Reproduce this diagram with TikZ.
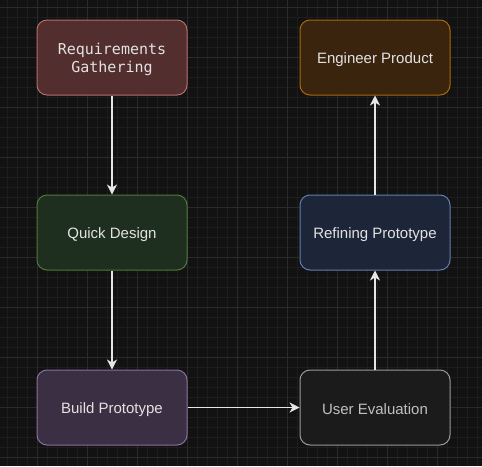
\documentclass[tikz,border=0pt]{standalone}
\usepackage{fontspec}
\setmainfont{Liberation Sans}
\newfontfamily\monofnt{DejaVu Sans Mono}
\usetikzlibrary{arrows.meta}
\definecolor{bgc}{HTML}{121212}
\definecolor{gminor}{HTML}{1D1D1D}
\definecolor{gmajor}{HTML}{2A2A2A}
\definecolor{txtc}{HTML}{E2E2E2}
\definecolor{arrc}{HTML}{E6E6E6}
\definecolor{reqfill}{HTML}{532E2E}\definecolor{reqdraw}{HTML}{B86A6A}
\definecolor{engfill}{HTML}{3A240E}\definecolor{engdraw}{HTML}{A8690D}
\definecolor{qdfill}{HTML}{1F2F1F}\definecolor{qddraw}{HTML}{4F7A35}
\definecolor{rpfill}{HTML}{1D2639}\definecolor{rpdraw}{HTML}{5F7FAE}
\definecolor{bpfill}{HTML}{3B2F44}\definecolor{bpdraw}{HTML}{8B6F9C}
\definecolor{uefill}{HTML}{1B1B1B}\definecolor{uedraw}{HTML}{9A9A9A}
\tikzset{
  box/.style={rounded corners=10pt, minimum width=150pt, minimum height=75pt,
    inner sep=0pt, line width=1pt, text=txtc, font=\fontsize{15}{18}\selectfont,
    align=center},
  lbl/.style={text=txtc, font=\fontsize{15}{18}\selectfont, align=center, inner sep=0pt},
  conn/.style={draw=arrc, line width=1.2pt, -{Stealth[length=10pt,width=10pt,inset=3pt]}}
}
\begin{document}
\begin{tikzpicture}[x=1pt,y=-1pt]
\fill[bgc] (0,0) rectangle (482,466);
\useasboundingbox (0,0) rectangle (482,466);
\foreach \x in {7,17,...,477} \draw[gminor,line width=0.6pt] (\x,0) -- (\x,466);
\foreach \y in {7,17,...,467} \draw[gminor,line width=0.6pt] (0,\y) -- (482,\y);
\foreach \x in {37,87,...,437} \draw[gmajor,line width=0.8pt] (\x,0) -- (\x,466);
\foreach \y in {7,57,...,457} \draw[gmajor,line width=0.8pt] (0,\y) -- (482,\y);

\node[box, fill=reqfill, draw=reqdraw] (req) at (112,57.5) {};
\node[box, fill=engfill, draw=engdraw] (eng) at (375,57.5) {};
\node[box, fill=qdfill, draw=qddraw] (qd) at (112,232.5) {};
\node[box, fill=rpfill, draw=rpdraw] (rp) at (375,232.5) {};
\node[box, fill=bpfill, draw=bpdraw] (bp) at (112,407.5) {};
\node[box, fill=uefill, draw=uedraw] (ue) at (375,407.5) {};

\node[lbl, font=\monofnt\fontsize{15}{18}\selectfont] (reqt) at ([yshift=-1.5pt]req.center) {Requirements\\Gathering};
\node[lbl] (engt) at ([yshift=-2pt]eng.center) {Engineer Product};
\node[lbl] (qdt) at ([yshift=-2pt]qd.center) {Quick Design};
\node[lbl] (rpt) at ([yshift=-2pt]rp.center) {Refining Prototype};
\node[lbl] (bpt) at ([yshift=-2pt]bp.center) {Build Prototype};
\node[lbl, text=txtc!85!black] (uet) at ([yshift=-2pt]ue.center) {User Evaluation};

\draw[conn] (req) -- (qd);
\draw[conn] (qd) -- (bp);
\draw[conn] (bp) -- (ue);
\draw[conn] (ue) -- (rp);
\draw[conn] (rp) -- (eng);
\end{tikzpicture}
\end{document}
